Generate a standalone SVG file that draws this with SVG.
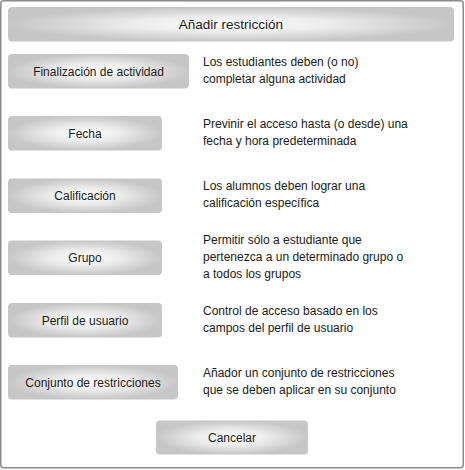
<svg xmlns="http://www.w3.org/2000/svg" width="465" height="470" viewBox="0 0 465 470">
<defs>
<radialGradient id="g" cx="0.5" cy="0.5" r="0.5" gradientUnits="objectBoundingBox">
<stop offset="0" stop-color="#ffffff"/>
<stop offset="0.45" stop-color="#ececec"/>
<stop offset="1" stop-color="#c6c6c6"/>
</radialGradient>
<style>
.btn{fill:url(#g);stroke:none}
.t{font-family:"Liberation Sans",Arial,sans-serif;font-size:12px;fill:#1a1a1a}
.c{text-anchor:middle}
</style>
</defs>
<rect x="0.75" y="0.75" width="462.5" height="467" rx="3" fill="#ffffff" stroke="#8a8a8a" stroke-width="1.5"/>
<g id="titulo">
<rect class="btn" x="8" y="7" width="446" height="34.5" rx="4"/>
<text class="t c" x="231" y="29" style="font-size:13.5px">Añadir restricción</text>
</g>
<g id="finalizacion">
<rect class="btn" x="8" y="54" width="181" height="34.5" rx="4"/>
<text class="t c" x="98.5" y="75.5">Finalización de actividad</text>
<text class="t" x="203" y="65.5">Los estudiantes deben (o no)</text>
<text class="t" x="203" y="82.5">completar alguna actividad</text>
</g>
<g id="fecha">
<rect class="btn" x="8" y="116" width="154" height="34.5" rx="4"/>
<text class="t c" x="85" y="137.5">Fecha</text>
<text class="t" x="203" y="128">Previnir el acceso hasta (o desde) una</text>
<text class="t" x="203" y="145">fecha y hora predeterminada</text>
</g>
<g id="calificacion">
<rect class="btn" x="8" y="178.5" width="154" height="34.5" rx="4"/>
<text class="t c" x="85" y="200">Calificación</text>
<text class="t" x="203" y="190">Los alumnos deben lograr una</text>
<text class="t" x="203" y="207">calificación específica</text>
</g>
<g id="grupo">
<rect class="btn" x="8" y="240.5" width="154" height="34.5" rx="4"/>
<text class="t c" x="85" y="262">Grupo</text>
<text class="t" x="203" y="243.5">Permitir sólo a estudiante que</text>
<text class="t" x="203" y="261">pertenezca a un determinado grupo o</text>
<text class="t" x="203" y="278">a todos los grupos</text>
</g>
<g id="perfil">
<rect class="btn" x="8" y="303" width="154" height="34.5" rx="4"/>
<text class="t c" x="85" y="324.5">Perfil de usuario</text>
<text class="t" x="203" y="315">Control de acceso basado en los</text>
<text class="t" x="203" y="332">campos del perfil de usuario</text>
</g>
<g id="conjunto">
<rect class="btn" x="8" y="365" width="170" height="34.5" rx="4"/>
<text class="t c" x="93" y="386.5">Conjunto de restricciones</text>
<text class="t" x="203" y="377">Añador un conjunto de restricciones</text>
<text class="t" x="203" y="394">que se deben aplicar en su conjunto</text>
</g>
<g id="cancelar">
<rect class="btn" x="156" y="420.5" width="152" height="34" rx="4"/>
<text class="t c" x="232" y="442">Cancelar</text>
</g>
<g id="connectors"/>
</svg>
